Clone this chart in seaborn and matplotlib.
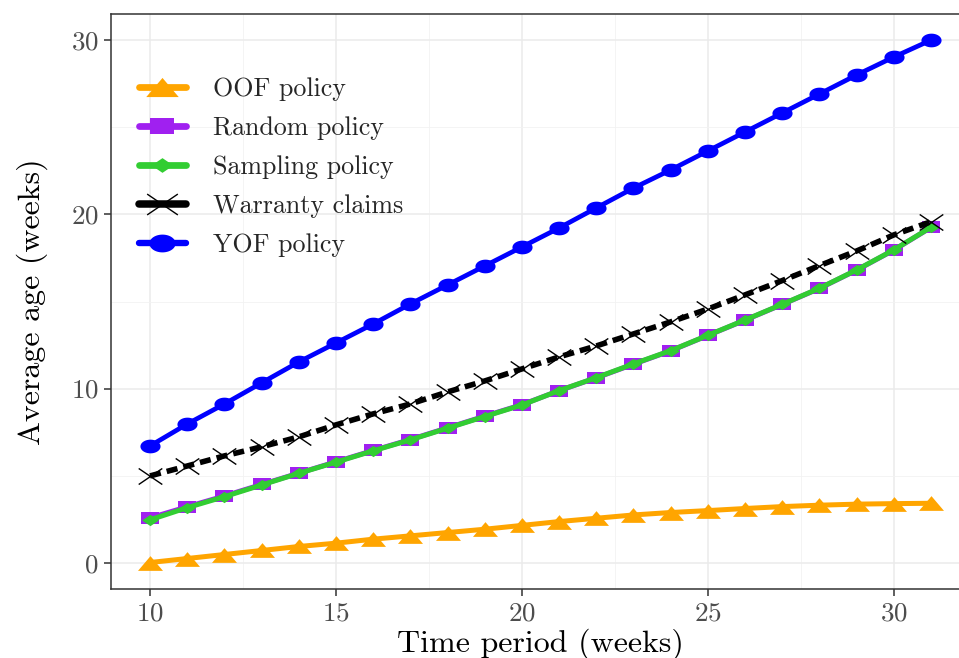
import numpy as np
import pandas as pd
import matplotlib
matplotlib.use("Agg")
import matplotlib.pyplot as plt
from matplotlib.path import Path
import seaborn as sns

weeks = list(range(10, 32))
oof = [0.02, 0.25, 0.48, 0.71, 0.94, 1.13, 1.36, 1.55, 1.74, 1.93, 2.15, 2.37,
       2.56, 2.75, 2.89, 3.00, 3.12, 3.23, 3.31, 3.37, 3.40, 3.42]
random_pol = [2.58, 3.22, 3.84, 4.50, 5.15, 5.80, 6.45, 7.08, 7.75, 8.42, 9.08, 9.88,
              10.62, 11.40, 12.17, 13.05, 13.93, 14.83, 15.75, 16.80, 17.95, 19.25]
sampling = [2.47, 3.17, 3.80, 4.47, 5.14, 5.78, 6.43, 7.06, 7.73, 8.40, 9.06, 9.89,
            10.63, 11.42, 12.18, 13.06, 13.94, 14.84, 15.76, 16.81, 17.96, 19.26]
warranty = [4.99, 5.56, 6.14, 6.66, 7.23, 7.92, 8.55, 9.12, 9.81, 10.44, 11.13, 11.82,
            12.45, 13.14, 13.83, 14.57, 15.38, 16.20, 17.06, 17.90, 18.82, 19.58]
yof = [6.71, 7.97, 9.12, 10.33, 11.53, 12.62, 13.71, 14.86, 15.95, 17.04, 18.13, 19.22,
       20.37, 21.51, 22.55, 23.64, 24.73, 25.82, 26.91, 28.00, 29.03, 30.00]
series_names = ["OOF policy", "Random policy", "Sampling policy", "Warranty claims", "YOF policy"]
x_ticks = [10, 15, 20, 25, 30]
y_ticks = [0, 10, 20, 30]

sns.set_theme(style="whitegrid")
plt.rcParams["font.family"] = ["cmr10", "DejaVu Serif"]
plt.rcParams["mathtext.fontset"] = "cm"
plt.rcParams["axes.formatter.use_mathtext"] = True

df = pd.DataFrame({
    "week": weeks * 5,
    "age": oof + random_pol + sampling + warranty + yof,
    "series": sum([[n] * len(weeks) for n in series_names], []),
})

# markers slightly squashed vertically, as in the reference
SQ = 0.68
t = np.linspace(0, 2 * np.pi, 60)
ellipse = Path(np.column_stack([np.cos(t), SQ * np.sin(t)]), closed=True)
th = 1.732 * SQ
tri = Path([(-1, -th / 2), (1, -th / 2), (0, th / 2), (-1, -th / 2)], closed=True)
rect = Path([(-1, -SQ), (1, -SQ), (1, SQ), (-1, SQ), (-1, -SQ)], closed=True)
diam = Path([(-1, 0), (0, -SQ), (1, 0), (0, SQ), (-1, 0)], closed=True)
cross = Path([(-1, -SQ), (1, SQ), (-1, SQ), (1, -SQ)],
             [Path.MOVETO, Path.LINETO, Path.MOVETO, Path.LINETO])

styles = {
    "OOF policy": dict(color="#FFA500", marker=tri, ms=18, lw=3.6, ls="-", mew=0, mfc="#FFA500"),
    "Random policy": dict(color="#A020F0", marker=rect, ms=13.5, lw=3.6, ls="-", mew=0, mfc="#A020F0"),
    "Sampling policy": dict(color="#32CD32", marker=diam, ms=12, lw=3.6, ls="-", mew=0, mfc="#32CD32"),
    "Warranty claims": dict(color="black", marker=cross, ms=17, lw=4.0, ls=(0, (2.0, 1.1)), mew=1.0, mfc="none"),
    "YOF policy": dict(color="#0000FF", marker=ellipse, ms=14.5, lw=3.4, ls="-", mew=0, mfc="#0000FF"),
}

fig = plt.figure(figsize=(9.59, 6.58), dpi=100)
ax = fig.add_axes([111 / 959, 1 - 589 / 658, (970 - 111) / 959, (589 - 14) / 658])

for name in series_names:
    st = styles[name]
    sub = df[df["series"] == name]
    sns.lineplot(data=sub, x="week", y="age", ax=ax, color=st["color"], marker=st["marker"],
                 markersize=st["ms"], linewidth=st["lw"], linestyle=st["ls"],
                 markeredgewidth=st["mew"], markeredgecolor=st["color"],
                 markerfacecolor=st["mfc"], label=name)

ax.set_xlim(8.95, 32.05)
ax.set_ylim(-1.5, 31.5)
ax.set_xticks(x_ticks)
ax.set_yticks(y_ticks)
ax.set_xticks([12.5, 17.5, 22.5, 27.5], minor=True)
ax.set_yticks([5, 15, 25], minor=True)
ax.grid(True, which="major", color="#EBEBEB", linewidth=1.1)
ax.grid(True, which="minor", color="#F2F2F2", linewidth=0.6)
ax.set_facecolor("white")
for sp in ax.spines.values():
    sp.set_color("#333333")
    sp.set_linewidth(1.1)
ax.tick_params(axis="both", which="major", length=5, width=1.1, color="#333333",
               labelcolor="#4D4D4D", labelsize=19.5, pad=4, bottom=True, left=True)
ax.tick_params(axis="both", which="minor", length=0)
ax.set_xlabel("Time period (weeks)", fontsize=23, color="black", labelpad=2)
ax.set_ylabel("Average age (weeks)", fontsize=23, color="black", labelpad=16)

leg = ax.legend(loc="upper left", bbox_to_anchor=(0.0326, 0.890), frameon=False,
                fontsize=18.7, handlelength=1.8, handletextpad=1.04, labelspacing=0.59,
                borderaxespad=0, borderpad=0)
for ln in leg.get_lines():
    ln.set_linewidth(ln.get_linewidth() * 1.35)
    ln.set_markersize(ln.get_markersize() * 1.3)
    ln.set_linestyle("-")

fig.savefig("out.png", dpi=100)
